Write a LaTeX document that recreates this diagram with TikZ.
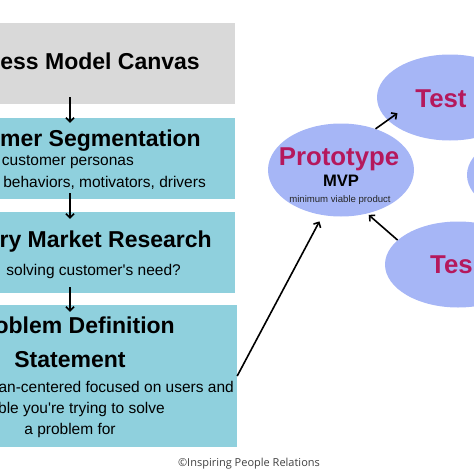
\documentclass[tikz,border=0pt]{standalone}
\usepackage{xcolor}
\usepackage{fontspec}
\setmainfont{Liberation Sans}
\newfontfamily\creditfont{Open Sans}
\usetikzlibrary{shapes.geometric,arrows.meta}
\definecolor{canvasgrey}{HTML}{D9D9D9}
\definecolor{stepteal}{HTML}{8FD0DD}
\definecolor{loopblue}{HTML}{A6B6F6}
\definecolor{loopred}{HTML}{B5185C}

\begin{document}
\begin{tikzpicture}[x=1pt,y=-1pt,
    stepbox/.style={rectangle,fill=stepteal,minimum width=330pt,inner sep=0pt},
    loopnode/.style={ellipse,fill=loopblue,minimum width=146pt,minimum height=86pt,inner sep=0pt},
    headtext/.style={font=\fontsize{23}{27}\selectfont\bfseries,inner sep=0pt},
    bodytext/.style={font=\fontsize{15.5}{18}\selectfont,inner sep=0pt},
    looptext/.style={font=\fontsize{25.8}{30}\selectfont\bfseries,text=loopred,inner sep=0pt},
    flow/.style={-{Straight Barb[length=4pt,width=8pt]},line width=1.6pt}]
  \useasboundingbox (0,0) rectangle (474,474);
  \clip (0,0) rectangle (474,474);

  % steps on the left
  \node[stepbox,fill=canvasgrey,minimum height=81pt] (canvas) at (70,63.5) {};
  \node[stepbox,minimum height=81pt] (segment) at (70,158.5) {};
  \node[stepbox,minimum height=81pt] (market) at (70,252.5) {};
  \node[stepbox,minimum width=334pt,minimum height=142pt] (problem) at (70,376) {};

  \node[headtext,anchor=base east] (canvastitle) at (200,69) {ess Model Canvas};
  \node[headtext,anchor=base east] (segmenttitle) at (201,146) {mer Segmentation};
  \node[bodytext,anchor=base east] (segmentline1) at (134,165) {customer personas};
  \node[bodytext,anchor=base east] (segmentline2) at (206,187) {behaviors, motivators, drivers};
  \node[headtext,anchor=base east] (markettitle) at (212,247) {ry Market Research};
  \node[bodytext,anchor=base east] (marketline) at (181,275) {solving customer\textquotesingle s need?};
  \node[headtext,anchor=base east] (problemtitle) at (175,333) {oblem Definition};
  \node[headtext,anchor=base] (problemtitle2) at (70,367) {Statement};
  \node[bodytext,anchor=base east] (problemline1) at (234,392) {an-centered focused on users and};
  \node[bodytext,anchor=base east] (problemline2) at (165,413) {ble you\textquotesingle re trying to solve};
  \node[bodytext,anchor=base] (problemline3) at (70,434) {a problem for};

  % loop on the right
  \node[loopnode,minimum height=93pt] (proto) at (341,170) {};
  \node[loopnode] (test) at (450,97.5) {};
  \node[loopnode] (rightloop) at (540,175) {};
  \node[loopnode] (retest) at (458,264.5) {};

  \node[looptext,anchor=base] (prototitle) at (339,165) {Prototype};
  \node[font=\fontsize{16.6}{20}\selectfont\bfseries,inner sep=0pt,anchor=base] (mvp) at (341,186) {MVP};
  \node[font=\fontsize{9.6}{11}\selectfont,inner sep=0pt,text=black!85,anchor=base] (mvpnote) at (340,202) {minimum viable product};
  \node[looptext,anchor=base] (testtitle) at (441,107) {Test};
  \node[looptext,anchor=base west] (retesttitle) at (430,273) {Tes};

  \draw[flow,shorten <=-7pt,shorten >=-5pt] (canvas.south) -- (segment.north);
  \draw[flow,shorten <=-6pt,shorten >=-7pt] (segment.south) -- (market.north);
  \draw[flow,shorten <=-6pt,shorten >=-7pt] (market.south) -- (problem.north);
  \draw[flow,shorten >=7pt] (problem.east) -- (proto.248);
  \draw[flow,shorten >=-12pt] (proto.50) -- (test.200);
  \draw[flow,shorten >=2pt] (retest.158) -- (proto.-59);

  \node[font=\creditfont\fontsize{11}{13}\selectfont,inner sep=0pt,text=black!75,anchor=base] (credit) at (249,466) {©Inspiring People Relations};
\end{tikzpicture}
\end{document}
